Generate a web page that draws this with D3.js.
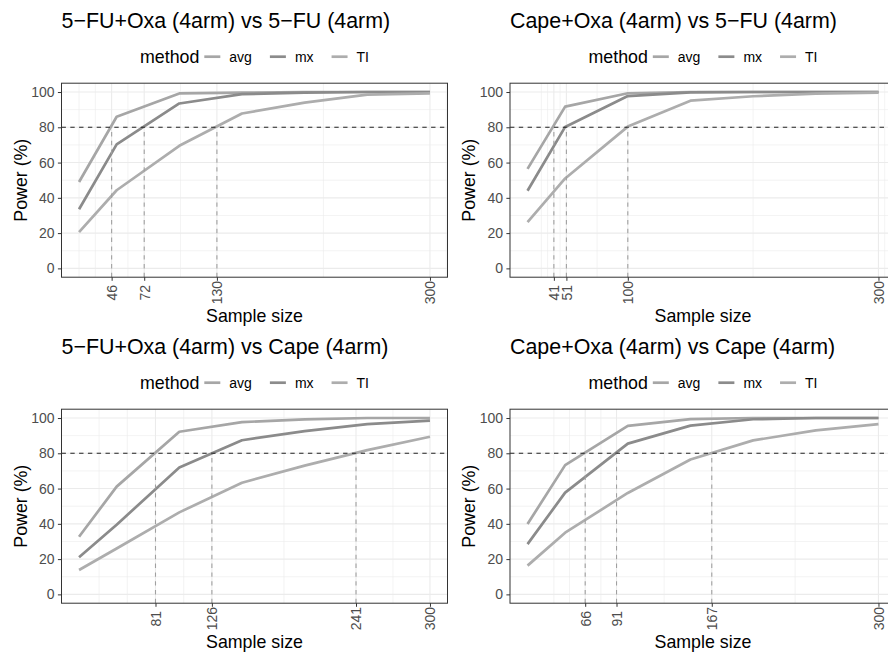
<!DOCTYPE html>
<html>
<head>
<meta charset="utf-8">
<script src="https://cdn.jsdelivr.net/npm/d3@7"></script>
<style>
  body { margin: 0; background: #fff; }
  svg { display: block; font-family: "Liberation Sans", Arial, sans-serif; }
</style>
</head>
<body>
<div id="chart"></div>
<script>
// ---- data ----
const sampleSizes = [20, 50, 100, 150, 200, 250, 300];
const methods = ["avg", "mx", "TI"];
const yTicks = [0, 20, 40, 60, 80, 100];
const powerTarget = 80;

const panelTitles = [
    "5−FU+Oxa (4arm) vs 5−FU (4arm)",
    "Cape+Oxa (4arm) vs 5−FU (4arm)",
    "5−FU+Oxa (4arm) vs Cape (4arm)",
    "Cape+Oxa (4arm) vs Cape (4arm)"
];

// x tick labels = sample size where each method hits 80% power, plus the max
const fuOxaVsFuTicks = [46, 72, 130, 300];
const capeOxaVsFuTicks = [41, 51, 100, 300];
const fuOxaVsCapeTicks = [81, 126, 241, 300];
const capeOxaVsCapeTicks = [66, 91, 167, 300];

// power (%) per sample size
const fuOxaVsFuAvg = [49, 86, 99.2, 99.6, 100, 100, 100];
const fuOxaVsFuMx = [33.5, 70.3, 93.5, 98.8, 99.6, 100, 100];
const fuOxaVsFuTI = [20.6, 44.3, 69.5, 87.8, 94, 98.5, 99.2];

const capeOxaVsFuAvg = [56.4, 91.7, 99.3, 100, 100, 100, 100];
const capeOxaVsFuMx = [44, 80.2, 97.7, 99.8, 100, 100, 100];
const capeOxaVsFuTI = [26.2, 51, 80.4, 95.1, 97.6, 99.1, 99.6];

const fuOxaVsCapeAvg = [32.7, 61.1, 92.2, 97.7, 99.2, 100, 100];
const fuOxaVsCapeMx = [21, 39.5, 72, 87.4, 92.6, 96.5, 98.5];
const fuOxaVsCapeTI = [13.8, 26, 46.5, 63.3, 73, 81.8, 89.4];

const capeOxaVsCapeAvg = [39.9, 73.3, 95.5, 99.4, 100, 100, 100];
const capeOxaVsCapeMx = [28.5, 57.7, 85.5, 95.7, 99.3, 100, 100];
const capeOxaVsCapeTI = [16.3, 35, 57.5, 76.5, 87.3, 93, 96.5];

const panels = [
    { title: panelTitles[0], ticks: fuOxaVsFuTicks, series: { avg: fuOxaVsFuAvg, mx: fuOxaVsFuMx, TI: fuOxaVsFuTI } },
    { title: panelTitles[1], ticks: capeOxaVsFuTicks, series: { avg: capeOxaVsFuAvg, mx: capeOxaVsFuMx, TI: capeOxaVsFuTI } },
    { title: panelTitles[2], ticks: fuOxaVsCapeTicks, series: { avg: fuOxaVsCapeAvg, mx: fuOxaVsCapeMx, TI: fuOxaVsCapeTI } },
    { title: panelTitles[3], ticks: capeOxaVsCapeTicks, series: { avg: capeOxaVsCapeAvg, mx: capeOxaVsCapeMx, TI: capeOxaVsCapeTI } }
];

// ---- layout ----
const W = 888, H = 652;
const colX = [61.5, 510];
const rowY = [83.2, 409.2];
const pw = 386, ph = 194;

const color = d3.scaleOrdinal().domain(methods).range(["#a6a6a6", "#8b8b8b", "#adadad"]);

const svg = d3.select("#chart").append("svg")
    .attr("width", W)
    .attr("height", H);

// ggplot-like minor breaks: midpoints between majors, extended past the ends
function minorBreaks(major, lim) {
    const b = major.slice().sort((a, c) => a - c);
    const bd = b[1] - b[0];
    if (lim[0] < b[0]) b.unshift(b[0] - bd);
    if (lim[1] > b[b.length - 1]) b.push(b[b.length - 1] + bd);
    let out = b.slice();
    for (let i = 0; i < b.length - 1; i++) out.push((b[i] + b[i + 1]) / 2);
    return out.filter(v => v >= lim[0] && v <= lim[1] && !major.includes(v));
}

function drawPanel(p, idx) {
    const left = colX[idx % 2];
    const top = rowY[Math.floor(idx / 2)];
    const g = svg.append("g");

    const ext = d3.extent(sampleSizes);
    const xpad = (ext[1] - ext[0]) * 0.05;
    const x = d3.scaleLinear().domain([ext[0] - xpad, ext[1] + xpad]).range([left, left + pw]);
    const y = d3.scaleLinear().domain([-5, 105]).range([top + ph, top]);

    const clipId = "clip" + idx;
    g.append("clipPath").attr("id", clipId)
        .append("rect").attr("x", left).attr("y", top).attr("width", pw).attr("height", ph);

    const body = g.append("g").attr("clip-path", `url(#${clipId})`);

    // grid
    const xMinor = minorBreaks(p.ticks, x.domain());
    const yMinor = minorBreaks(yTicks, y.domain());
    body.selectAll(".xminor").data(xMinor).enter().append("line")
        .attr("x1", d => x(d)).attr("x2", d => x(d))
        .attr("y1", top).attr("y2", top + ph)
        .attr("stroke", "#ebebeb").attr("stroke-width", 0.6);
    body.selectAll(".yminor").data(yMinor).enter().append("line")
        .attr("x1", left).attr("x2", left + pw)
        .attr("y1", d => y(d)).attr("y2", d => y(d))
        .attr("stroke", "#ebebeb").attr("stroke-width", 0.6);
    body.selectAll(".xmajor").data(p.ticks).enter().append("line")
        .attr("x1", d => x(d)).attr("x2", d => x(d))
        .attr("y1", top).attr("y2", top + ph)
        .attr("stroke", "#ebebeb").attr("stroke-width", 1.1);
    body.selectAll(".ymajor").data(yTicks).enter().append("line")
        .attr("x1", left).attr("x2", left + pw)
        .attr("y1", d => y(d)).attr("y2", d => y(d))
        .attr("stroke", "#ebebeb").attr("stroke-width", 1.1);

    // power curves
    const line = d3.line().x((d, i) => x(sampleSizes[i])).y(d => y(d));
    methods.forEach(m => {
        body.append("path")
            .datum(p.series[m])
            .attr("d", line)
            .attr("fill", "none")
            .attr("stroke", color(m))
            .attr("stroke-width", 2.7)
            .attr("stroke-linejoin", "round");
    });

    // 80% reference + where each method gets there
    body.append("line")
        .attr("x1", left).attr("x2", left + pw)
        .attr("y1", y(powerTarget)).attr("y2", y(powerTarget))
        .attr("stroke", "#222").attr("stroke-width", 1.1)
        .attr("stroke-dasharray", "4.4,4.4");
    body.selectAll(".cross").data(p.ticks.filter(t => t < ext[1])).enter().append("line")
        .attr("x1", d => x(d)).attr("x2", d => x(d))
        .attr("y1", top + ph).attr("y2", y(powerTarget))
        .attr("stroke", "#a0a0a0").attr("stroke-width", 1.1)
        .attr("stroke-dasharray", "4.4,4.4");

    // border
    g.append("rect")
        .attr("x", left).attr("y", top).attr("width", pw).attr("height", ph)
        .attr("fill", "none").attr("stroke", "#333").attr("stroke-width", 1);

    // axes
    const yAxis = g.append("g").attr("transform", `translate(${left},0)`)
        .call(d3.axisLeft(y).tickValues(yTicks).tickSize(3.6).tickPadding(3.4));
    const xAxis = g.append("g").attr("transform", `translate(0,${top + ph})`)
        .call(d3.axisBottom(x).tickValues(p.ticks).tickSize(3.6));
    [xAxis, yAxis].forEach(a => {
        a.select(".domain").remove();
        a.selectAll(".tick line").attr("stroke", "#333").attr("stroke-width", 1);
        a.selectAll(".tick text").attr("fill", "#4d4d4d")
            .style("font-size", "14px").style("font-family", "Liberation Sans, Arial, sans-serif");
    });
    xAxis.selectAll(".tick text")
        .attr("transform", "rotate(-90)")
        .attr("x", -15.5).attr("y", 0).attr("dy", "0.35em")
        .attr("text-anchor", "middle");

    // titles
    g.append("text")
        .attr("x", left).attr("y", top - 54.9)
        .style("font-size", "21.4px").attr("fill", "#000")
        .text(p.title);
    g.append("text")
        .attr("x", left + pw / 2).attr("y", top + ph + 44.3)
        .attr("text-anchor", "middle")
        .style("font-size", "17.8px")
        .text("Sample size");
    g.append("text")
        .attr("transform", `translate(${left - 41},${top + ph / 2}) rotate(-90)`)
        .attr("text-anchor", "middle").attr("dy", "0.35em")
        .style("font-size", "17.8px")
        .text("Power (%)");

    // legend, centred over the panel
    const ly = top - 26.5;
    const leg = g.append("g");
    const title = leg.append("text").attr("y", ly).attr("dy", "0.35em")
        .style("font-size", "17.8px").text("method");
    let cx = title.node().getComputedTextLength() + 5;
    methods.forEach((m, i) => {
        leg.append("line")
            .attr("x1", cx).attr("x2", cx + 16)
            .attr("y1", ly).attr("y2", ly)
            .attr("stroke", color(m)).attr("stroke-width", 2.7);
        cx += 16 + 9;
        const t = leg.append("text").attr("x", cx).attr("y", ly).attr("dy", "0.35em")
            .style("font-size", "14px").attr("fill", "#000").text(m);
        cx += t.node().getComputedTextLength();
        if (i < methods.length - 1) cx += 18;
    });
    leg.attr("transform", `translate(${left + pw / 2 - cx / 2},0)`);
}

panels.forEach(drawPanel);
</script>
</body>
</html>
